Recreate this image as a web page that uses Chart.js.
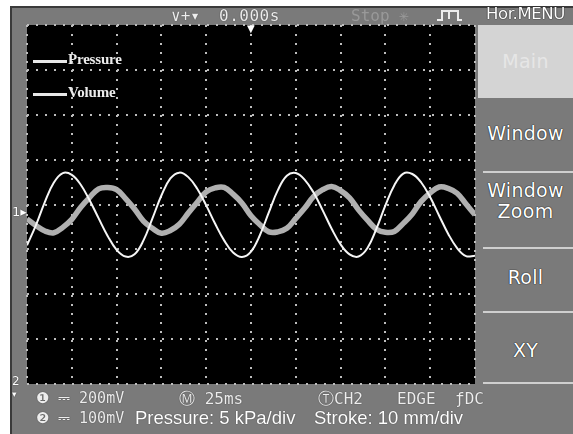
<!DOCTYPE html>
<html><head><meta charset="utf-8">
<script src="https://cdn.jsdelivr.net/npm/chart.js@4"></script>
<style>
html,body{margin:0;padding:0;background:#fff;width:573px;height:434px;overflow:hidden;font-family:"Liberation Sans",Arial,sans-serif}
#frame{position:absolute;left:10px;top:6px;width:563px;height:428px;background:#7a7a7a;border-left:2px solid #3a3a3a;border-top:2px solid #3a3a3a;box-sizing:border-box}
#c{position:absolute;left:0;top:0;z-index:1}
.t{position:absolute;white-space:nowrap;line-height:1;z-index:2}
.lcd{font-family:"DejaVu Sans Mono",monospace;color:#ededed;font-size:15px;text-shadow:0 0 1px #222}
.btn{position:absolute;left:478px;width:95px;color:#fff;font-family:"DejaVu Sans",sans-serif;font-size:19px;letter-spacing:0.3px;text-align:center;line-height:21px;text-shadow:0 0 1px #111,0 0 1px #111}
.sep{position:absolute;left:483px;width:90px;height:2px;background:#cfcfcf}
.lg{position:absolute;left:33px;width:34px;height:3px;background:#e8e8e8;z-index:2}
.lgt{font-family:"Liberation Serif",serif;font-weight:bold;font-size:15px;color:#ececec;letter-spacing:-0.2px}
</style></head>
<body>
<div id="frame"></div>
<!-- top bar -->
<div class="t lcd" style="left:171px;top:8px;font-size:16px">∨+▾</div>
<div class="t lcd" style="left:219px;top:8px;font-size:16px;letter-spacing:0.5px">0.000s</div>
<div class="t lcd" style="left:351px;top:8px;font-size:16px;color:#999;text-shadow:none">Stop ✳</div>
<div style="position:absolute;left:437px;top:19px;width:5px;height:2px;background:#eee;z-index:2"></div>
<div style="position:absolute;left:441px;top:10px;width:14px;height:9px;border:2px solid #eee;border-bottom:none;z-index:2"></div>
<div style="position:absolute;left:448px;top:11px;width:2px;height:8px;background:#eee;z-index:2"></div>
<div style="position:absolute;left:457px;top:19px;width:5px;height:2px;background:#eee;z-index:2"></div>
<div class="t" style="left:486px;top:6px;font-family:'DejaVu Sans',sans-serif;font-size:16.5px;color:#fff;text-shadow:0 0 1px #111,0 0 1px #111;letter-spacing:-0.4px">Hor.MENU</div>
<!-- right menu -->
<div style="position:absolute;left:478px;top:25px;width:95px;height:73px;background:#d4d4d4"></div>
<div class="btn" style="top:51px;color:#e6e6e6;text-shadow:none">Main</div>
<div class="btn" style="top:123px">Window</div>
<div class="sep" style="top:171px"></div>
<div class="btn" style="top:180px">Window<br>Zoom</div>
<div class="sep" style="top:247px"></div>
<div class="btn" style="top:267px">Roll</div>
<div class="sep" style="top:311px"></div>
<div class="btn" style="top:340px">XY</div>
<div class="sep" style="top:382px"></div>
<!-- channel markers -->
<div class="t" style="left:12px;top:205px;font-family:'DejaVu Sans',sans-serif;font-size:13px;color:#fff;text-shadow:0 0 1px #000">1▸</div>
<div class="t" style="left:12px;top:375px;font-family:'DejaVu Sans',sans-serif;font-size:12px;color:#fff;text-shadow:0 0 1px #000">2<br><span style="font-size:9px">▾</span></div>
<!-- trigger marker -->
<div class="t" style="left:247px;top:24px;font-size:10px;color:#fff;font-family:'DejaVu Sans',sans-serif">▼</div>
<!-- legend -->
<div class="lg" style="top:60px"></div>
<div class="t lgt" style="left:68px;top:52px">Pressure</div>
<div class="lg" style="top:93px"></div>
<div class="t lgt" style="left:68px;top:85px">Volume</div>
<!-- bottom status -->
<div class="t lcd" style="left:36px;top:391px">❶ ⎓ 200mV</div>
<div class="t lcd" style="left:179px;top:391px;font-size:16px">Ⓜ 25ms</div>
<div class="t lcd" style="left:318px;top:391px;font-size:16px">ⓉCH2</div>
<div class="t lcd" style="left:397px;top:391px;font-size:16px">EDGE</div>
<div class="t lcd" style="left:455px;top:391px;font-size:16px">ƒDC</div>
<div class="t lcd" style="left:36px;top:411px">❷ ⎓ 100mV</div>
<div class="t" style="left:135px;top:409px;font-size:18.5px;color:#fff;text-shadow:0 0 1px #222">Pressure: 5 kPa/div</div>
<div class="t" style="left:314px;top:409px;font-size:18.5px;color:#fff;text-shadow:0 0 1px #222">Stroke: 10 mm/div</div>
<canvas id="c" width="573" height="434"></canvas>
<script>
// time axis (ms, 25 ms/div) and vertical divisions
const times = [0,5,10,15,20,25,30,35,40,45,50,55,60,65,70,75,80,85,90,95,100,105,110,115,120,125,130,135,140,145,150,155,160,165,170,175,180,185,190,195,200,205,210,215,220,225,230,235,240,245,250];
const volume = [-0.91,-0.46,0.06,0.49,0.70,0.66,0.44,0.09,-0.31,-0.70,-1.01,-1.16,-1.11,-0.80,-0.31,0.20,0.58,0.71,0.61,0.35,-0.02,-0.43,-0.80,-1.07,-1.17,-1.05,-0.68,-0.17,0.32,0.64,0.70,0.55,0.26,-0.13,-0.54,-0.89,-1.11,-1.16,-0.97,-0.54,-0.02,0.43,0.69,0.68,0.49,0.16,-0.25,-0.65,-0.97,-1.15,-1.14];
const pressure = [-0.32,-0.47,-0.59,-0.63,-0.51,-0.33,-0.06,0.16,0.35,0.38,0.33,0.13,-0.10,-0.37,-0.53,-0.64,-0.58,-0.44,-0.19,0.05,0.28,0.37,0.38,0.23,0.03,-0.25,-0.45,-0.61,-0.61,-0.53,-0.31,-0.08,0.18,0.33,0.40,0.31,0.15,-0.12,-0.35,-0.55,-0.62,-0.60,-0.42,-0.21,0.07,0.26,0.39,0.36,0.25,0.01,-0.23];
const xRange = [0, 250];
const yRange = [-4, 4];
const xStep = 25, yStep = 1;

const toPts = v => times.map((t, i) => ({x: t, y: v[i]}));

const bg = {id: 'bg', beforeDraw(chart) {
  const {ctx, chartArea: a} = chart;
  ctx.save(); ctx.fillStyle = '#000';
  ctx.fillRect(a.left, a.top, a.right - a.left, a.bottom - a.top);
  ctx.restore();
}};

const gridOpts = {color: '#bdbdbd', lineWidth: 2, drawTicks: false};
new Chart(document.getElementById('c'), {
  type: 'line',
  data: {datasets: [
    {label: 'Volume', data: toPts(volume), borderColor: '#f6f6f6', borderWidth: 2, pointRadius: 0, tension: 0.4, order: 0},
    {label: 'Pressure', data: toPts(pressure), borderColor: '#b0b0b0', borderWidth: 5.5, pointRadius: 0, tension: 0.4, order: 1}
  ]},
  options: {
    responsive: false, animation: false,
    layout: {autoPadding: false, padding: {left: 27, top: 25, right: 98, bottom: 50}},
    plugins: {legend: {display: false}, tooltip: {enabled: false}},
    scales: {
      x: {type: 'linear', min: xRange[0], max: xRange[1], ticks: {display: false, stepSize: xStep}, grid: gridOpts, border: {display: false, dash: [2, 7]}},
      y: {type: 'linear', min: yRange[0], max: yRange[1], ticks: {display: false, stepSize: yStep}, grid: gridOpts, border: {display: false, dash: [2, 7]}}
    }
  },
  plugins: [bg]
});
</script>
</body></html>
